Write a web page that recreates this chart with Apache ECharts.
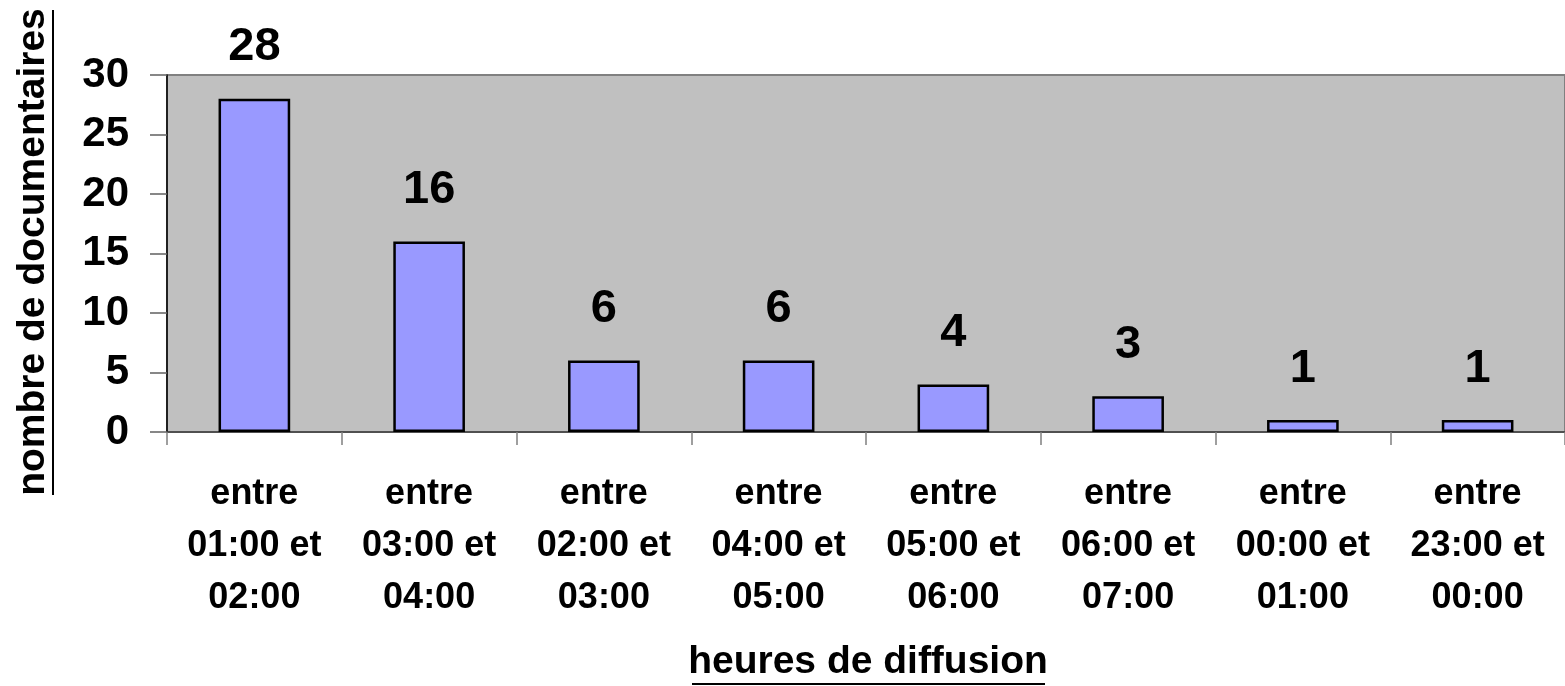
<!DOCTYPE html>
<html>
<head>
<meta charset="utf-8">
<script src="https://cdn.jsdelivr.net/npm/echarts@6/dist/echarts.min.js"></script>
<style>html,body{margin:0;padding:0;background:#fff}#c{width:1565px;height:686px}</style>
</head>
<body>
<div id="c"></div>
<script>
const categories = ["entre\n01:00 et\n02:00","entre\n03:00 et\n04:00","entre\n02:00 et\n03:00","entre\n04:00 et\n05:00","entre\n05:00 et\n06:00","entre\n06:00 et\n07:00","entre\n00:00 et\n01:00","entre\n23:00 et\n00:00"];
const values = [28, 16, 6, 6, 4, 3, 1, 1];
const yTicks = [0, 5, 10, 15, 20, 25, 30];
const yTitle = "nombre de documentaires";
const xTitle = "heures de diffusion";

const FONT = '"Liberation Sans", Arial, sans-serif';
const chart = echarts.init(document.getElementById('c'), null, {renderer: 'canvas'});
chart.setOption({
  animation: false,
  grid: {left: 167, right: 0, top: 75, bottom: 254, show: true, backgroundColor: '#C0C0C0', borderColor: '#808080', borderWidth: 2},
  xAxis: {
    type: 'category', data: categories,
    axisLine: {lineStyle: {color: '#404040', width: 1.5}},
    axisTick: {show: true, length: 13, lineStyle: {color: '#808080', width: 1.5}},
    axisLabel: {fontFamily: FONT, fontWeight: 'bold', fontSize: 36, color: '#000', lineHeight: 52, margin: 36, interval: 0}
  },
  yAxis: {
    type: 'value', min: yTicks[0], max: yTicks[yTicks.length-1], interval: 5,
    axisLine: {show: true, lineStyle: {color: '#000', width: 1.5}},
    axisTick: {show: true, length: 17, lineStyle: {color: '#606060', width: 1.5}},
    splitLine: {show: false},
    axisLabel: {fontFamily: FONT, fontWeight: 'bold', fontSize: 42, color: '#000', margin: 38}
  },
  series: [{
    type: 'bar', data: values, barWidth: '41%',
    itemStyle: {color: '#9999FF', borderColor: '#000', borderWidth: 2.5},
    label: {show: true, position: 'top', distance: 28, fontFamily: FONT, fontWeight: 'bold', fontSize: 47, color: '#000'}
  }],
  graphic: [
    {type: 'text', x: 33, y: 252, rotation: Math.PI/2, style: {text: yTitle, font: 'bold 39px ' + FONT, fill: '#000', textAlign: 'center', textVerticalAlign: 'middle'}},
    {type: 'line', shape: {x1: 53, y1: 10, x2: 53, y2: 495}, style: {stroke: '#000', lineWidth: 2}},
    {type: 'text', x: 868, y: 662, style: {text: xTitle, font: 'bold 39px ' + FONT, fill: '#000', textAlign: 'center', textVerticalAlign: 'middle'}},
    {type: 'line', shape: {x1: 692, y1: 684, x2: 1045, y2: 684}, style: {stroke: '#000', lineWidth: 2}}
  ]
});
</script>
</body>
</html>
